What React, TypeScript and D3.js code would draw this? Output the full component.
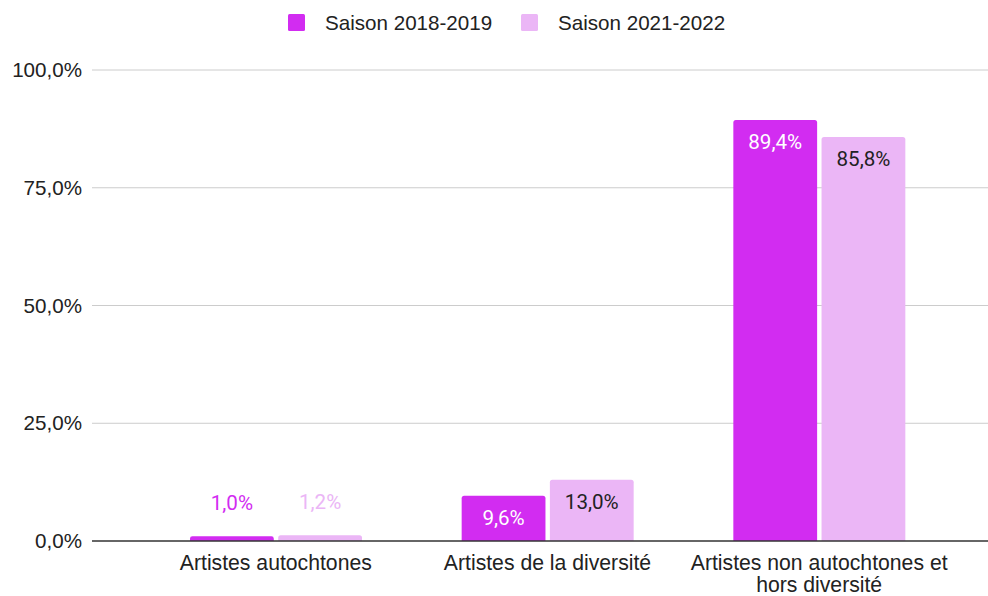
import React from 'react';
import * as d3 from 'd3';

const categories = [
  ['Artistes autochtones'],
  ['Artistes de la diversité'],
  ['Artistes non autochtones et', 'hors diversité'],
];
const seriesNames = ['Saison 2018-2019', 'Saison 2021-2022'];
const season1 = [1.0, 9.6, 89.4];
const season2 = [1.2, 13.0, 85.8];
const yTicks = [0, 25, 50, 75, 100];
const colors = ['#d22cf1', '#ebb6f6'];
const insideText = ['#ffffff', '#222222'];

const W = 988;
const H = 596;
const fmt = (v: number) => v.toFixed(1).replace('.', ',') + '%';
const FS = 20.6;

const App = () => {
  const x = d3.scaleBand<number>()
    .domain(d3.range(categories.length))
    .range([140, 955]);
  const inner = d3.scaleBand<number>()
    .domain([0, 1])
    .range([50, 222])
    .paddingInner(0.05);
  const y = d3.scaleLinear().domain([0, 100]).range([541, 70]);

  const series = [season1, season2];

  // bar path with small rounded top corners
  const barPath = (x0: number, y0: number, w: number, h: number) => {
    const r = Math.min(2.5, h / 2);
    return `M${x0},${y0 + h}V${y0 + r}Q${x0},${y0} ${x0 + r},${y0}H${x0 + w - r}Q${x0 + w},${y0} ${x0 + w},${y0 + r}V${y0 + h}Z`;
  };

  return (
    <svg width={W} height={H} style={{ position: 'absolute', left: 0, top: 0, background: '#fff' }}>
      {/* legend */}
      <g fontFamily="'Liberation Sans', Arial, sans-serif" fontSize={FS} fill="#222">
        {seriesNames.map((s, i) => {
          const lx = [288, 521][i];
          return (
            <g key={s}>
              <rect x={lx} y={14} width={17} height={17} rx={1.5} fill={colors[i]} />
              <text x={lx + 37} y={29.5}>{s}</text>
            </g>
          );
        })}
      </g>

      {/* grid + y axis */}
      <g fontFamily="'Liberation Sans', Arial, sans-serif" fontSize={FS} fill="#222">
        {yTicks.map(t => (
          <g key={t}>
            {t !== 0 && <line x1={92} x2={990} y1={y(t)} y2={y(t)} stroke="#cccccc" strokeWidth={1} />}
            <text x={82} y={y(t) + 7} textAnchor="end">{fmt(t)}</text>
          </g>
        ))}
      </g>

      {/* bars */}
      {categories.map((c, ci) => (
        <g key={ci} transform={`translate(${x(ci)},0)`}>
          {series.map((vals, si) => {
            const v = vals[ci];
            const bx = inner(si)!;
            const bw = inner.bandwidth();
            const by = y(v);
            const bh = y(0) - by;
            const inside = bh > 30;
            return (
              <g key={si}>
                <path d={barPath(bx, by, bw, bh)} fill={colors[si]} />
                <text
                  x={bx + bw / 2}
                  y={inside ? by + 29 : by - 26}
                  textAnchor="middle"
                  fontFamily="Roboto, sans-serif"
                  fontSize={FS}
                  fill={inside ? insideText[si] : colors[si]}
                >
                  {fmt(v)}
                </text>
              </g>
            );
          })}
        </g>
      ))}

      {/* baseline */}
      <line x1={92} x2={990} y1={y(0)} y2={y(0)} stroke="#333" strokeWidth={1.5} />

      {/* category labels */}
      <g fontFamily="'Liberation Sans', Arial, sans-serif" fontSize={21.2} fill="#222">
        {categories.map((lines, ci) => (
          <text key={ci} x={x(ci)! + x.bandwidth() / 2} y={570} textAnchor="middle">
            {lines.map((l, li) => (
              <tspan key={li} x={x(ci)! + x.bandwidth() / 2} dy={li === 0 ? 0 : 21.5}>{l}</tspan>
            ))}
          </text>
        ))}
      </g>
    </svg>
  );
};

export default App;
